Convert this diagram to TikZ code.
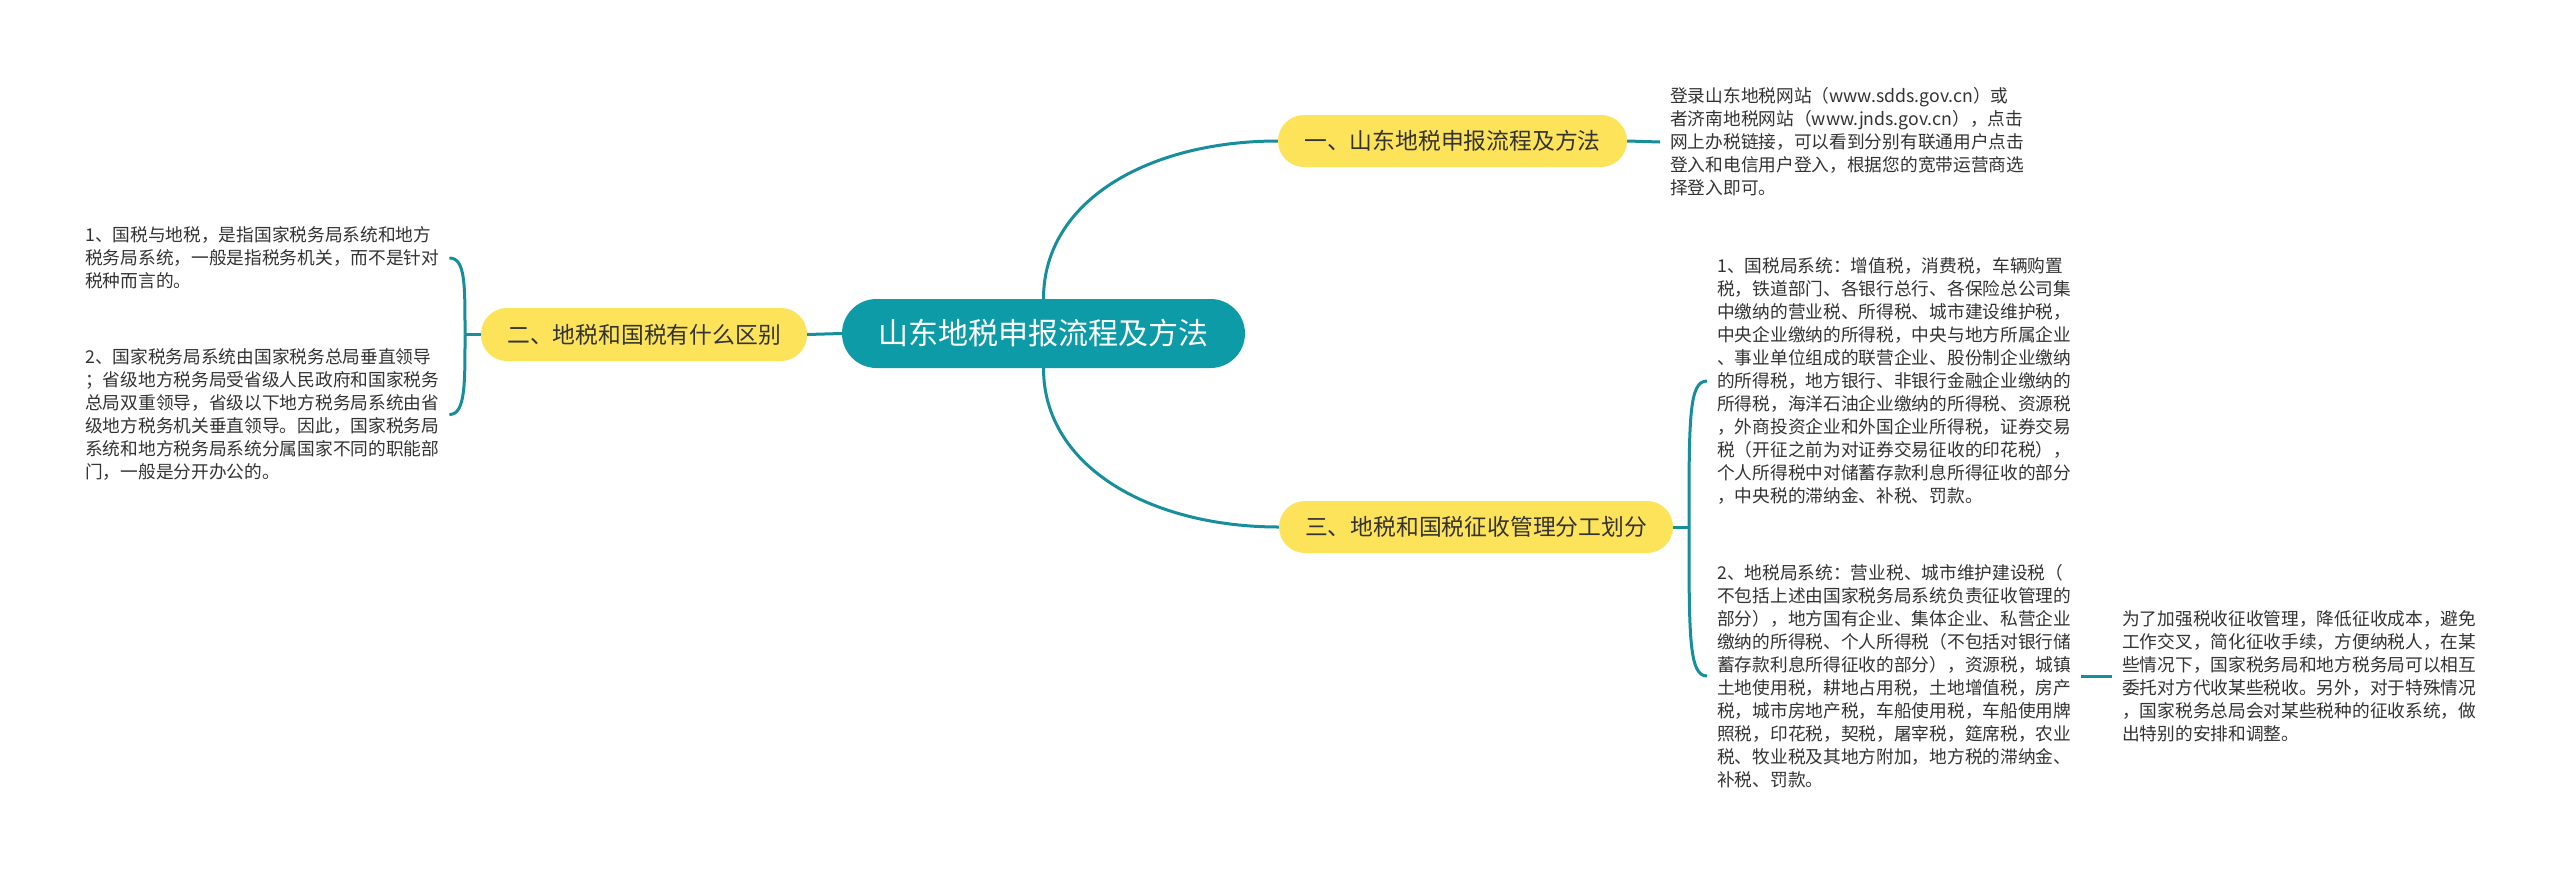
\documentclass[tikz,border=0pt]{standalone}
\usepackage{fontspec}
\setmainfont{Noto Sans CJK SC}
\definecolor{teal1}{HTML}{0E9BA8}
\definecolor{line1}{HTML}{178E9C}
\definecolor{yel}{HTML}{FDE35A}
\definecolor{txt}{HTML}{333333}
\begin{document}
\begin{tikzpicture}[x=1pt,y=-1pt,
  conn/.style={draw=line1,line width=3pt},
  rootbox/.style={fill=teal1,text=white,rounded corners=34.5pt,minimum width=403pt,minimum height=69pt,inner sep=0pt,font=\fontsize{30}{36}\selectfont},
  mainbox/.style={fill=yel,text=txt,rounded corners=26pt,minimum height=52pt,inner sep=0pt,font=\fontsize{22.8}{27}\selectfont},
  leaf/.style={text=txt,align=left,inner xsep=10pt,inner ysep=0pt,font=\fontsize{17.7}{23}\selectfont}]
\fill[white] (0,0) rectangle (2560,873);
\useasboundingbox (0,0) rectangle (2560,873);

\node[rootbox] (root) at (1043.5,333.5) {山东地税申报流程及方法};
\node[mainbox,minimum width=349pt] (m1) at (1452.5,141) {一、山东地税申报流程及方法};
\node[mainbox,minimum width=326pt,minimum height=53pt] (m2) at (644,334.5) {二、地税和国税有什么区别};
\node[mainbox,minimum width=394pt] (m3) at (1476,527) {三、地税和国税征收管理分工划分};

\node[leaf,anchor=west] (t1) at (1660,142) {登录山东地税网站（www.sdds.gov.cn）或\\者济南地税网站（www.jnds.gov.cn），点击\\网上办税链接，可以看到分别有联通用户点击\\登入和电信用户登入，根据您的宽带运营商选\\择登入即可。};

\node[leaf,anchor=west] (l1) at (75,258) {1、国税与地税，是指国家税务局系统和地方\\税务局系统，一般是指税务机关，而不是针对\\税种而言的。};

\node[leaf,anchor=west] (l2) at (75,414.5) {2、国家税务局系统由国家税务总局垂直领导\\；省级地方税务局受省级人民政府和国家税务\\总局双重领导，省级以下地方税务局系统由省\\级地方税务机关垂直领导。因此，国家税务局\\系统和地方税务局系统分属国家不同的职能部\\门，一般是分开办公的。};

\node[leaf,anchor=west] (r1) at (1707,381) {1、国税局系统：增值税，消费税，车辆购置\\税，铁道部门、各银行总行、各保险总公司集\\中缴纳的营业税、所得税、城市建设维护税，\\中央企业缴纳的所得税，中央与地方所属企业\\、事业单位组成的联营企业、股份制企业缴纳\\的所得税，地方银行、非银行金融企业缴纳的\\所得税，海洋石油企业缴纳的所得税、资源税\\，外商投资企业和外国企业所得税，证券交易\\税（开征之前为对证券交易征收的印花税），\\个人所得税中对储蓄存款利息所得征收的部分\\，中央税的滞纳金、补税、罚款。};

\node[leaf,anchor=west] (r2) at (1707,676) {2、地税局系统：营业税、城市维护建设税（\\不包括上述由国家税务局系统负责征收管理的\\部分），地方国有企业、集体企业、私营企业\\缴纳的所得税、个人所得税（不包括对银行储\\蓄存款利息所得征收的部分），资源税，城镇\\土地使用税，耕地占用税，土地增值税，房产\\税，城市房地产税，车船使用税，车船使用牌\\照税，印花税，契税，屠宰税，筵席税，农业\\税、牧业税及其地方附加，地方税的滞纳金、\\补税、罚款。};

\node[leaf,anchor=west] (s1) at (2112,676) {为了加强税收征收管理，降低征收成本，避免\\工作交叉，简化征收手续，方便纳税人，在某\\些情况下，国家税务局和地方税务局可以相互\\委托对方代收某些税收。另外，对于特殊情况\\，国家税务总局会对某些税种的征收系统，做\\出特别的安排和调整。};

\coordinate (b2) at (465,334.5);
\coordinate (b3) at (1689,527);

\draw[conn] (root.north) .. controls +(0,-99) and +(-128,0) .. (m1.west);
\draw[conn] (root.south) .. controls +(0,99) and +(-128,0) .. (m3.west);
\draw[conn] (root.west) -- (m2.east);
\draw[conn] (m1.east) -- (t1.west);
\draw[conn] (m2.west) -- (b2);
\draw[conn] (b2) .. controls +(0,-50) and +(16,0) .. (l1.east);
\draw[conn] (b2) .. controls +(0,50) and +(16,0) .. (l2.east);
\draw[conn] (m3.east) -- (b3);
\draw[conn] (b3) .. controls +(0,-110) and +(-18,0) .. (r1.west);
\draw[conn] (b3) .. controls +(0,110) and +(-18,0) .. (r2.west);
\draw[conn] (r2.east) -- (s1.west);
\end{tikzpicture}
\end{document}
